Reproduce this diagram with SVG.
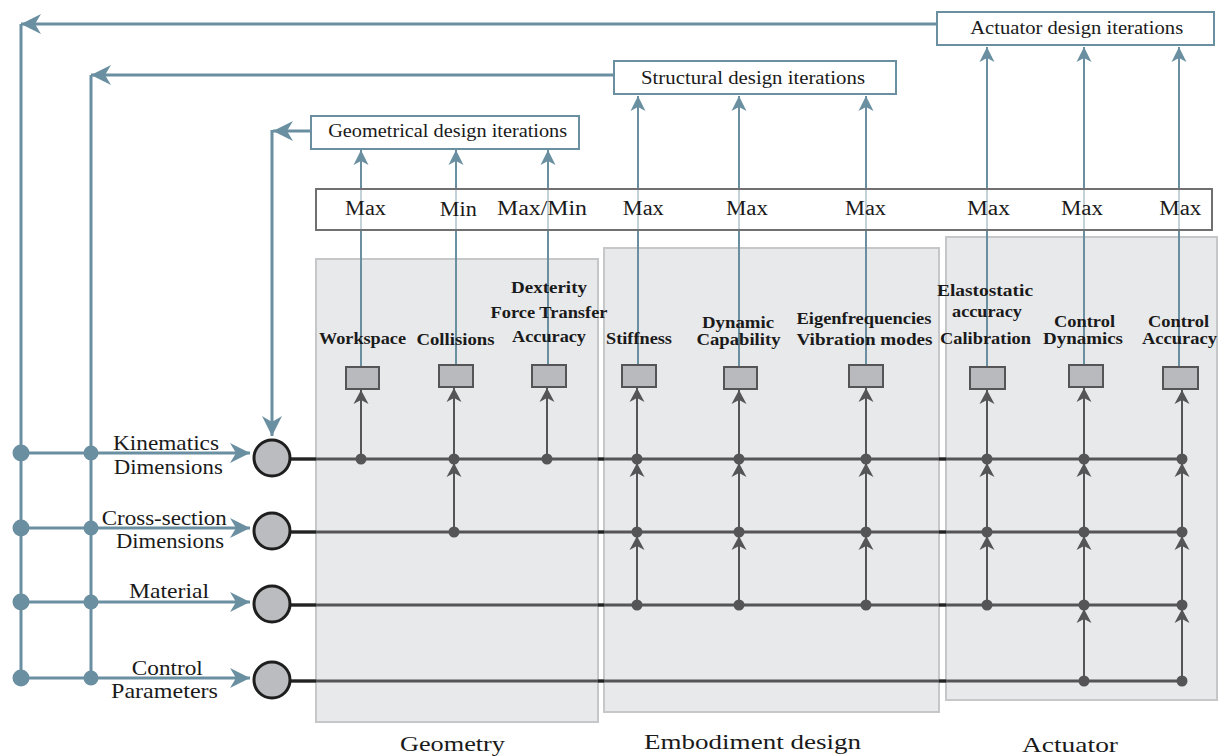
<svg xmlns="http://www.w3.org/2000/svg" width="1223" height="756" viewBox="0 0 1223 756">
<style>
.panel{fill:#e8e9eb;stroke:#c6c7c9;stroke-width:2}
.row{stroke:#555557;stroke-width:3;fill:none}
.gap{stroke:#222;stroke-width:3}
.gv{stroke:#555557;stroke-width:2;fill:none}
.dot{fill:#555557}
.comp{fill:#b9babd;stroke:#555557;stroke-width:2}
.bv{stroke:#6a8fa1;stroke-width:2;fill:none}
.bl{stroke:#6a8fa1;stroke-width:3;fill:none}
.bdot{fill:#6a8fa1}
.ibox{fill:#fff;stroke:#6a8fa1;stroke-width:2}
.maxbox{fill:#fff;fill-opacity:0.6;stroke:#707070;stroke-width:2}
.node{fill:#bbbcbf;stroke:#1e1e1e;stroke-width:3}
text{font-family:"Liberation Serif","Times New Roman",serif;fill:#1a1a1a;text-anchor:middle}
.t19{font-size:19px}
.t20{font-size:20px}
.t21{font-size:21px}
.t22{font-size:22px}
.lb{font-size:17px;font-weight:bold}
</style>
<defs>
<marker id="ag" viewBox="-15 -8 16 16" markerWidth="16" markerHeight="16" refX="0" refY="0" orient="auto" markerUnits="userSpaceOnUse"><path d="M0,0 L-14,-7.5 L-10,0 L-14,7.5 Z" fill="#555557"/></marker>
<marker id="ab" viewBox="-16 -8 17 16" markerWidth="17" markerHeight="16" refX="0" refY="0" orient="auto" markerUnits="userSpaceOnUse"><path d="M0,0 L-15,-7.5 L-11,0 L-15,7.5 Z" fill="#6a8fa1"/></marker>
<marker id="abig" viewBox="-21 -11 22 22" markerWidth="22" markerHeight="22" refX="0" refY="0" orient="auto" markerUnits="userSpaceOnUse"><path d="M0,0 L-20,-10 L-14,0 L-20,10 Z" fill="#6a8fa1"/></marker>
</defs>

<g id="panels">
<rect id="panel-geometry" class="panel" x="316" y="259" width="282" height="463"/>
<rect id="panel-embodiment" class="panel" x="604" y="248" width="335" height="464"/>
<rect id="panel-actuator" class="panel" x="946" y="237" width="271" height="463"/>
<text class="t22" x="452.5" y="751" textLength="105" lengthAdjust="spacingAndGlyphs">Geometry</text>
<text class="t22" x="752.5" y="749" textLength="217" lengthAdjust="spacingAndGlyphs">Embodiment design</text>
<text class="t22" x="1070" y="752" textLength="96" lengthAdjust="spacingAndGlyphs">Actuator</text>
</g>

<g id="connectors">
<!-- gray rows -->
<line class="row" x1="290" y1="459" x2="1184" y2="459"/>
<line class="row" x1="290" y1="532" x2="1184" y2="532"/>
<line class="row" x1="290" y1="605" x2="1184" y2="605"/>
<line class="row" x1="290" y1="681" x2="1184" y2="681"/>
<path class="gap" d="M290,459H316M598,459H604M939,459H946M290,532H316M598,532H604M939,532H946M290,605H316M598,605H604M939,605H946M290,681H316M598,681H604M939,681H946"/>
<!-- vertical gray arrows from row 1 to components -->
<line class="gv" x1="361" y1="459" x2="361" y2="390" marker-end="url(#ag)"/>
<line class="gv" x1="454" y1="459" x2="454" y2="388" marker-end="url(#ag)"/>
<line class="gv" x1="547" y1="459" x2="547" y2="388" marker-end="url(#ag)"/>
<line class="gv" x1="637" y1="459" x2="637" y2="388" marker-end="url(#ag)"/>
<line class="gv" x1="739" y1="459" x2="739" y2="390" marker-end="url(#ag)"/>
<line class="gv" x1="866" y1="459" x2="866" y2="388" marker-end="url(#ag)"/>
<line class="gv" x1="987" y1="459" x2="987" y2="390" marker-end="url(#ag)"/>
<line class="gv" x1="1084" y1="459" x2="1084" y2="388" marker-end="url(#ag)"/>
<line class="gv" x1="1182" y1="459" x2="1182" y2="390" marker-end="url(#ag)"/>
<!-- row-to-row arrows -->
<line class="gv" x1="454" y1="532" x2="454" y2="463" marker-end="url(#ag)"/>
<line class="gv" x1="637" y1="532" x2="637" y2="463" marker-end="url(#ag)"/>
<line class="gv" x1="637" y1="605" x2="637" y2="536" marker-end="url(#ag)"/>
<line class="gv" x1="739" y1="532" x2="739" y2="463" marker-end="url(#ag)"/>
<line class="gv" x1="739" y1="605" x2="739" y2="536" marker-end="url(#ag)"/>
<line class="gv" x1="866" y1="532" x2="866" y2="463" marker-end="url(#ag)"/>
<line class="gv" x1="866" y1="605" x2="866" y2="536" marker-end="url(#ag)"/>
<line class="gv" x1="987" y1="532" x2="987" y2="463" marker-end="url(#ag)"/>
<line class="gv" x1="987" y1="605" x2="987" y2="536" marker-end="url(#ag)"/>
<line class="gv" x1="1084" y1="532" x2="1084" y2="463" marker-end="url(#ag)"/>
<line class="gv" x1="1084" y1="605" x2="1084" y2="536" marker-end="url(#ag)"/>
<line class="gv" x1="1084" y1="681" x2="1084" y2="609" marker-end="url(#ag)"/>
<line class="gv" x1="1182" y1="532" x2="1182" y2="463" marker-end="url(#ag)"/>
<line class="gv" x1="1182" y1="605" x2="1182" y2="536" marker-end="url(#ag)"/>
<line class="gv" x1="1182" y1="681" x2="1182" y2="609" marker-end="url(#ag)"/>
<!-- dots -->
<g class="dot">
<circle cx="361" cy="459" r="5.5"/><circle cx="454" cy="459" r="5.5"/><circle cx="547" cy="459" r="5.5"/><circle cx="637" cy="459" r="5.5"/><circle cx="739" cy="459" r="5.5"/><circle cx="866" cy="459" r="5.5"/><circle cx="987" cy="459" r="5.5"/><circle cx="1084" cy="459" r="5.5"/><circle cx="1182" cy="459" r="5.5"/>
<circle cx="454" cy="532" r="5.5"/><circle cx="637" cy="532" r="5.5"/><circle cx="739" cy="532" r="5.5"/><circle cx="866" cy="532" r="5.5"/><circle cx="987" cy="532" r="5.5"/><circle cx="1084" cy="532" r="5.5"/><circle cx="1182" cy="532" r="5.5"/>
<circle cx="637" cy="605" r="5.5"/><circle cx="739" cy="605" r="5.5"/><circle cx="866" cy="605" r="5.5"/><circle cx="987" cy="605" r="5.5"/><circle cx="1084" cy="605" r="5.5"/><circle cx="1182" cy="605" r="5.5"/>
<circle cx="1084" cy="681" r="5.5"/><circle cx="1182" cy="681" r="5.5"/>
</g>
<!-- blue verticals to iteration boxes -->
<line class="bv" x1="361" y1="367" x2="361" y2="150" marker-end="url(#ab)"/>
<line class="bv" x1="456" y1="365" x2="456" y2="150" marker-end="url(#ab)"/>
<line class="bv" x1="548" y1="365" x2="548" y2="150" marker-end="url(#ab)"/>
<line class="bv" x1="638" y1="365" x2="638" y2="96" marker-end="url(#ab)"/>
<line class="bv" x1="739" y1="367" x2="739" y2="96" marker-end="url(#ab)"/>
<line class="bv" x1="866" y1="365" x2="866" y2="96" marker-end="url(#ab)"/>
<line class="bv" x1="987" y1="367" x2="987" y2="47" marker-end="url(#ab)"/>
<line class="bv" x1="1084" y1="365" x2="1084" y2="47" marker-end="url(#ab)"/>
<line class="bv" x1="1179" y1="367" x2="1179" y2="47" marker-end="url(#ab)"/>
<!-- feedback loops -->
<line class="bl" x1="937" y1="24" x2="21" y2="24" marker-end="url(#abig)"/>
<line class="bl" x1="21" y1="24" x2="21" y2="678"/>
<line class="bl" x1="614" y1="75" x2="91" y2="75" marker-end="url(#abig)"/>
<line class="bl" x1="91" y1="75" x2="91" y2="678"/>
<line class="bl" x1="311" y1="131" x2="273" y2="131" marker-end="url(#abig)"/>
<line class="bl" x1="272" y1="130" x2="272" y2="436" marker-end="url(#abig)"/>
<line class="bl" x1="21" y1="453" x2="250" y2="453" marker-end="url(#abig)"/>
<line class="bl" x1="21" y1="528" x2="250" y2="528" marker-end="url(#abig)"/>
<line class="bl" x1="21" y1="602" x2="250" y2="602" marker-end="url(#abig)"/>
<line class="bl" x1="21" y1="678" x2="250" y2="678" marker-end="url(#abig)"/>
<g class="bdot">
<circle cx="21" cy="453" r="8.5"/><circle cx="21" cy="528" r="8.5"/><circle cx="21" cy="602" r="8.5"/><circle cx="21" cy="678" r="8.5"/>
<circle cx="91" cy="453" r="7.5"/><circle cx="91" cy="528" r="7.5"/><circle cx="91" cy="602" r="7.5"/><circle cx="91" cy="678" r="7.5"/>
</g>
</g>

<g id="objectives">
<rect class="maxbox" x="316" y="189" width="896" height="41"/>
<text class="t20" x="365.5" y="215" textLength="41" lengthAdjust="spacingAndGlyphs">Max</text>
<text class="t20" x="458.3" y="216" textLength="37" lengthAdjust="spacingAndGlyphs">Min</text>
<text class="t20" x="542" y="215" textLength="90" lengthAdjust="spacingAndGlyphs">Max/Min</text>
<text class="t20" x="643.3" y="215" textLength="41" lengthAdjust="spacingAndGlyphs">Max</text>
<text class="t20" x="747" y="215" textLength="42" lengthAdjust="spacingAndGlyphs">Max</text>
<text class="t20" x="865.5" y="215" textLength="41" lengthAdjust="spacingAndGlyphs">Max</text>
<text class="t20" x="988.5" y="215" textLength="43" lengthAdjust="spacingAndGlyphs">Max</text>
<text class="t20" x="1082" y="215" textLength="42" lengthAdjust="spacingAndGlyphs">Max</text>
<text class="t20" x="1180.3" y="215" textLength="42" lengthAdjust="spacingAndGlyphs">Max</text>
</g>

<g id="iter-geometrical">
<rect class="ibox" x="311" y="116" width="268" height="33"/>
<text class="t19" x="447.7" y="137" textLength="239" lengthAdjust="spacingAndGlyphs">Geometrical design iterations</text>
</g>
<g id="iter-structural">
<rect class="ibox" x="614" y="61" width="282" height="33"/>
<text class="t19" x="753" y="83.5" textLength="224" lengthAdjust="spacingAndGlyphs">Structural design iterations</text>
</g>
<g id="iter-actuator">
<rect class="ibox" x="937" y="12" width="277" height="33"/>
<text class="t19" x="1076.7" y="33.5" textLength="213" lengthAdjust="spacingAndGlyphs">Actuator design iterations</text>
</g>

<g id="c-workspace"><rect class="comp" x="346" y="367" width="33" height="22"/><text class="lb" x="362.5" y="344" textLength="87" lengthAdjust="spacingAndGlyphs">Workspace</text></g>
<g id="c-collisions"><rect class="comp" x="439" y="365" width="34" height="22"/><text class="lb" x="455.5" y="345" textLength="78" lengthAdjust="spacingAndGlyphs">Collisions</text></g>
<g id="c-dexterity"><rect class="comp" x="532" y="365" width="34" height="22"/>
<text class="lb" x="549" y="293" textLength="76" lengthAdjust="spacingAndGlyphs">Dexterity</text>
<text class="lb" x="549" y="318" textLength="117" lengthAdjust="spacingAndGlyphs">Force Transfer</text>
<text class="lb" x="549" y="341.5" textLength="74" lengthAdjust="spacingAndGlyphs">Accuracy</text></g>
<g id="c-stiffness"><rect class="comp" x="622" y="365" width="34" height="22"/><text class="lb" x="639" y="344" textLength="66" lengthAdjust="spacingAndGlyphs">Stiffness</text></g>
<g id="c-dynamic"><rect class="comp" x="724" y="367" width="33" height="22"/>
<text class="lb" x="738" y="328" textLength="72" lengthAdjust="spacingAndGlyphs">Dynamic</text>
<text class="lb" x="738.5" y="345" textLength="84" lengthAdjust="spacingAndGlyphs">Capability</text></g>
<g id="c-eigen"><rect class="comp" x="849" y="365" width="34" height="22"/>
<text class="lb" x="864" y="324" textLength="135" lengthAdjust="spacingAndGlyphs">Eigenfrequencies</text>
<text class="lb" x="864.5" y="345" textLength="136" lengthAdjust="spacingAndGlyphs">Vibration modes</text></g>
<g id="c-elasto"><rect class="comp" x="970" y="367" width="35" height="22"/>
<text class="lb" x="985" y="296" textLength="96" lengthAdjust="spacingAndGlyphs">Elastostatic</text>
<text class="lb" x="987" y="317" textLength="70" lengthAdjust="spacingAndGlyphs">accuracy</text>
<text class="lb" x="985.5" y="344" textLength="91" lengthAdjust="spacingAndGlyphs">Calibration</text></g>
<g id="c-ctrldyn"><rect class="comp" x="1069" y="365" width="34" height="22"/>
<text class="lb" x="1084.5" y="327" textLength="61" lengthAdjust="spacingAndGlyphs">Control</text>
<text class="lb" x="1083" y="344" textLength="80" lengthAdjust="spacingAndGlyphs">Dynamics</text></g>
<g id="c-ctrlacc"><rect class="comp" x="1163" y="367" width="35" height="22"/>
<text class="lb" x="1178.5" y="327" textLength="61" lengthAdjust="spacingAndGlyphs">Control</text>
<text class="lb" x="1179.5" y="344" textLength="75" lengthAdjust="spacingAndGlyphs">Accuracy</text></g>

<g id="n-kinematics"><circle class="node" cx="272" cy="458" r="18"/>
<text class="t21" x="166" y="450" textLength="106" lengthAdjust="spacingAndGlyphs">Kinematics</text>
<text class="t21" x="168.3" y="474" textLength="109" lengthAdjust="spacingAndGlyphs">Dimensions</text></g>
<g id="n-crosssection"><circle class="node" cx="272" cy="531" r="18"/>
<text class="t21" x="164.3" y="525" textLength="125" lengthAdjust="spacingAndGlyphs">Cross-section</text>
<text class="t21" x="170" y="548" textLength="108" lengthAdjust="spacingAndGlyphs">Dimensions</text></g>
<g id="n-material"><circle class="node" cx="272" cy="604" r="18"/>
<text class="t21" x="169" y="598" textLength="80" lengthAdjust="spacingAndGlyphs">Material</text></g>
<g id="n-control"><circle class="node" cx="272" cy="680" r="18"/>
<text class="t21" x="167.3" y="675" textLength="71" lengthAdjust="spacingAndGlyphs">Control</text>
<text class="t21" x="164.5" y="698" textLength="107" lengthAdjust="spacingAndGlyphs">Parameters</text></g>
</svg>
